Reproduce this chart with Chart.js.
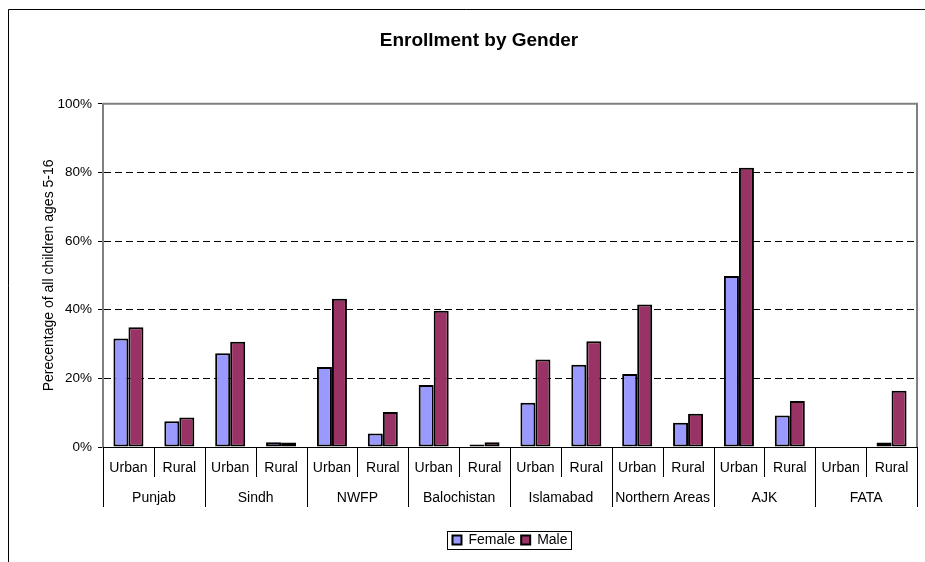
<!DOCTYPE html>
<html>
<head>
<meta charset="utf-8">
<script src="https://cdn.jsdelivr.net/npm/chart.js@4/dist/chart.umd.min.js"></script>
<style>
  html, body { margin: 0; padding: 0; background: #fff; }
  #wrap { width: 925px; height: 562px; }
</style>
</head>
<body>
<div id="wrap"><canvas id="enrollChart" width="925" height="562"></canvas></div>
<script>
// categories and values (percent of all children ages 5-16)
const categories = ['Urban', 'Rural', 'Urban', 'Rural', 'Urban', 'Rural', 'Urban', 'Rural',
                    'Urban', 'Rural', 'Urban', 'Rural', 'Urban', 'Rural', 'Urban', 'Rural'];
const regions = ['Punjab', 'Sindh', 'NWFP', 'Balochistan', 'Islamabad', 'Northern Areas', 'AJK', 'FATA'];
const female = [31.6, 7.5, 27.3, 1.4, 23.3, 3.9, 18.1, 0.7, 12.9, 24.0, 21.3, 7.1, 49.8, 9.2, null, 1.3];
const male   = [34.9, 8.6, 30.7, 1.3, 43.2, 10.2, 39.7, 1.4, 25.5, 30.8, 41.5, 9.7, 81.4, 13.4, null, 16.4];
const yTicks = [0, 20, 40, 60, 80, 100];

const FONT = '"Liberation Sans", Arial, sans-serif';

// outer frame, plot area border, two-level category axis, legend frame
const decorations = {
    id: 'decorations',
    beforeDraw(chart) {
        const ctx = chart.ctx;
        ctx.save();
        ctx.strokeStyle = '#000';
        ctx.lineWidth = 1;
        ctx.beginPath();
        ctx.moveTo(8.5, chart.height);
        ctx.lineTo(8.5, 9.5);
        ctx.lineTo(chart.width, 9.5);
        ctx.stroke();
        ctx.restore();
    },
    afterDraw(chart) {
        const ctx = chart.ctx;
        const x = chart.scales.x;
        const area = chart.chartArea;
        const step = (x.right - x.left) / categories.length;

        ctx.save();
        // plot area border (top + right)
        ctx.strokeStyle = '#808080';
        ctx.lineWidth = 2;
        ctx.beginPath();
        ctx.moveTo(area.left, area.top);
        ctx.lineTo(area.right, area.top);
        ctx.lineTo(area.right, area.bottom);
        ctx.stroke();

        // separators between categories / regions
        ctx.strokeStyle = '#000';
        ctx.lineWidth = 1;
        for (let i = 0; i <= categories.length; i++) {
            const px = Math.round(x.left + i * step) + 0.5;
            const len = i % 2 === 0 ? 60 : 30;
            ctx.beginPath();
            ctx.moveTo(px, x.top);
            ctx.lineTo(px, x.top + len);
            ctx.stroke();
        }

        // region labels
        ctx.font = '14px ' + FONT;
        ctx.fillStyle = '#000';
        ctx.textAlign = 'center';
        ctx.textBaseline = 'middle';
        regions.forEach((r, i) => {
            const cx = (x.getPixelForValue(2 * i) + x.getPixelForValue(2 * i + 1)) / 2;
            ctx.fillText(r, cx, x.top + 51);
        });

        // legend frame
        const boxes = chart.legend.legendHitBoxes;
        if (boxes && boxes.length) {
            const l = Math.min(...boxes.map(b => b.left)) - 5;
            const r = Math.max(...boxes.map(b => b.left + b.width)) + 4;
            const t = Math.min(...boxes.map(b => b.top)) - 2;
            const b2 = Math.max(...boxes.map(b => b.top + b.height)) + 2;
            ctx.strokeStyle = '#000';
            ctx.lineWidth = 1;
            ctx.strokeRect(Math.round(l) + 0.5, Math.round(t) + 0.5, Math.round(r - l), Math.round(b2 - t));
        }
        ctx.restore();
    }
};

const ctx = document.getElementById('enrollChart').getContext('2d');

new Chart(ctx, {
    type: 'bar',
    data: {
        labels: categories,
        datasets: [{
            label: 'Female',
            data: female,
            backgroundColor: '#9999FF',
            borderColor: '#000',
            borderWidth: 2,
            borderSkipped: false,
            categoryPercentage: 0.59,
            barPercentage: 1
        }, {
            label: 'Male',
            data: male,
            backgroundColor: '#993366',
            borderColor: '#000',
            borderWidth: 2,
            borderSkipped: false,
            categoryPercentage: 0.59,
            barPercentage: 1
        }]
    },
    options: {
        responsive: false,
        animation: false,
        layout: {
            padding: { left: 41, right: 8, top: 0, bottom: 5 }
        },
        scales: {
            x: {
                grid: { display: false, drawTicks: false },
                border: { display: true, color: '#000', width: 1 },
                ticks: {
                    color: '#000',
                    font: { family: FONT, size: 14 },
                    padding: 13,
                    maxRotation: 0,
                    autoSkip: false
                },
                afterFit: scale => { scale.height = 80; }
            },
            y: {
                min: 0,
                max: 100,
                afterBuildTicks: scale => {
                    scale.ticks = yTicks.map(v => ({ value: v }));
                },
                grid: {
                    color: c => (c.tick && (c.tick.value === 0 || c.tick.value === 100)) ? 'rgba(0,0,0,0)' : '#000',
                    lineWidth: 1,
                    drawTicks: true,
                    tickLength: 5,
                    tickColor: '#000'
                },
                border: { display: true, color: '#808080', width: 2, dash: [7, 4] },
                ticks: {
                    color: '#000',
                    font: { family: FONT, size: 13.5 },
                    padding: 6,
                    callback: v => v + '%'
                },
                title: {
                    display: true,
                    text: 'Perecentage of all children ages 5-16',
                    color: '#000',
                    font: { family: FONT, size: 14 },
                    padding: { top: 0, bottom: 0 }
                },
                afterFit: scale => { scale.width = 62; }
            }
        },
        plugins: {
            title: {
                display: true,
                text: 'Enrollment by Gender',
                color: '#000',
                font: { family: FONT, size: 19, weight: 'bold' },
                padding: { top: 29, bottom: 52 }
            },
            legend: {
                position: 'bottom',
                fullSize: false,
                labels: {
                    color: '#000',
                    font: { family: FONT, size: 14 },
                    boxWidth: 9,
                    boxHeight: 9,
                    padding: 6
                }
            },
            tooltip: { enabled: false }
        }
    },
    plugins: [decorations]
});
</script>
</body>
</html>
